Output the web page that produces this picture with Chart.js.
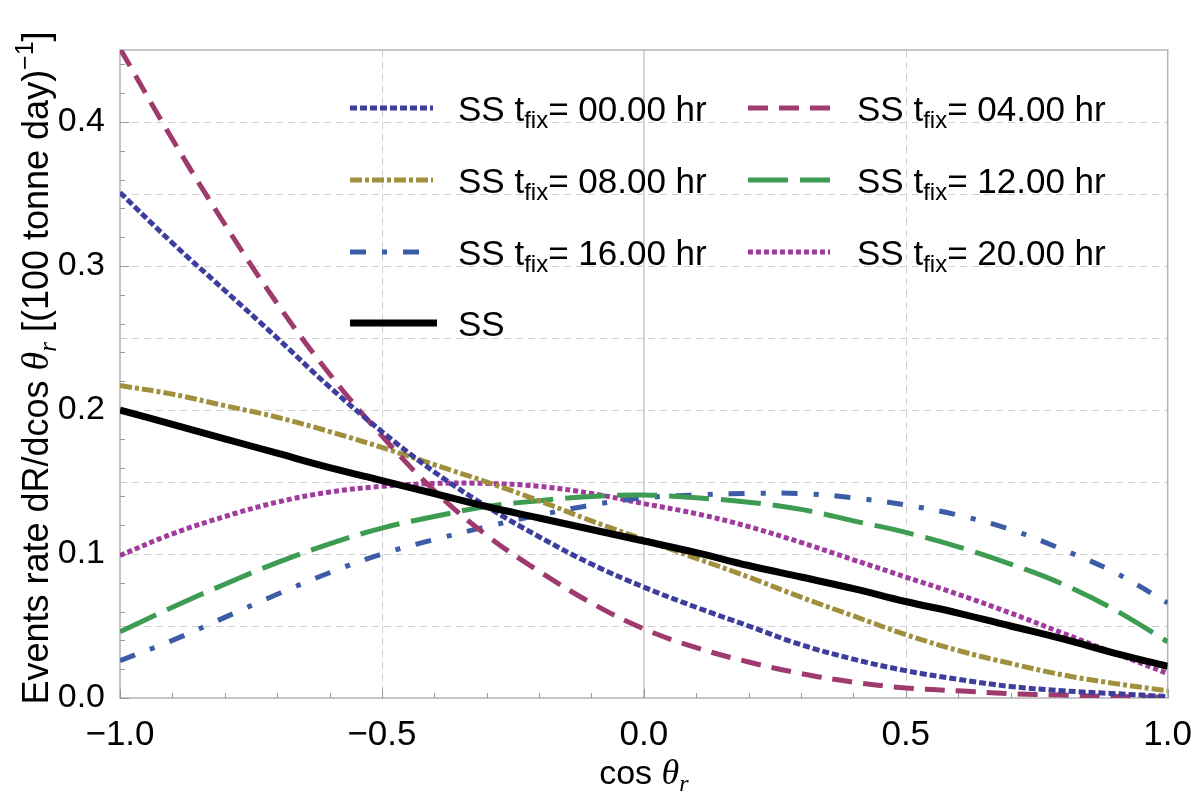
<!DOCTYPE html>
<html>
<head>
<meta charset="utf-8">
<script src="https://cdn.jsdelivr.net/npm/chart.js@4.4.0/dist/chart.umd.min.js"></script>
<style>
  html, body { margin: 0; padding: 0; background: #fff; }
  #wrap { width: 1200px; height: 804px; }
</style>
</head>
<body>
<div id="wrap"><canvas id="graph" width="1200" height="804"></canvas></div>
<script>
// x values (cos theta_r)
const cosTheta = [-1.0, -0.9, -0.8, -0.7, -0.6, -0.5, -0.4, -0.3, -0.2, -0.1, 0.0,
                  0.1, 0.2, 0.3, 0.4, 0.5, 0.6, 0.7, 0.8, 0.9, 1.0];

// event rates
const rateSS  = [0.200, 0.190, 0.180, 0.170, 0.160, 0.151, 0.142, 0.133, 0.125, 0.117, 0.109,
                 0.101, 0.092, 0.084, 0.076, 0.067, 0.059, 0.050, 0.041, 0.031, 0.022];
const rateT00 = [0.351, 0.316, 0.283, 0.250, 0.216, 0.185, 0.157, 0.133, 0.112, 0.093, 0.077,
                 0.063, 0.050, 0.037, 0.027, 0.019, 0.013, 0.008, 0.005, 0.003, 0.001];
const rateT04 = [0.451, 0.388, 0.329, 0.274, 0.225, 0.182, 0.144, 0.113, 0.088, 0.066, 0.048,
                 0.035, 0.025, 0.017, 0.011, 0.007, 0.005, 0.003, 0.002, 0.001, 0.0005];
const rateT08 = [0.217, 0.211, 0.203, 0.195, 0.185, 0.174, 0.162, 0.150, 0.137, 0.123, 0.110,
                 0.097, 0.084, 0.070, 0.057, 0.044, 0.033, 0.024, 0.016, 0.010, 0.005];
const rateT12 = [0.046, 0.063, 0.079, 0.094, 0.107, 0.118, 0.126, 0.133, 0.137, 0.140, 0.141,
                 0.139, 0.136, 0.131, 0.123, 0.115, 0.105, 0.093, 0.079, 0.061, 0.039];
const rateT16 = [0.026, 0.040, 0.056, 0.072, 0.087, 0.100, 0.110, 0.119, 0.127, 0.134, 0.139,
                 0.141, 0.142, 0.142, 0.139, 0.134, 0.127, 0.117, 0.103, 0.087, 0.066];
const rateT20 = [0.099, 0.114, 0.126, 0.136, 0.143, 0.147, 0.149, 0.149, 0.147, 0.142, 0.135,
                 0.128, 0.119, 0.108, 0.096, 0.084, 0.072, 0.059, 0.045, 0.031, 0.017];

const fixTimes = ['00.00', '04.00', '08.00', '12.00', '16.00', '20.00'];
const xTicks = [-1.0, -0.5, 0.0, 0.5, 1.0];
const yTicks = [0.0, 0.1, 0.2, 0.3, 0.4];

const SANS = '"Liberation Sans", Arial, sans-serif';
const SERIF = '"Liberation Serif", "Times New Roman", serif';

function pts(ys) {
    return cosTheta.map((x, i) => ({ x: x, y: ys[i] }));
}

function series(label, ys, color, dash, width) {
    return {
        label: label,
        data: pts(ys),
        borderColor: color,
        borderWidth: width || 5,
        borderDash: dash,
        borderCapStyle: 'butt',
        pointRadius: 0,
        fill: false,
        tension: 0.4
    };
}

const datasets = [
    series('SS', rateSS, '#000000', [], 7),
    series('t00', rateT00, '#3d3d9e', [7, 3]),
    series('t04', rateT04, '#9f3a6f', [20, 11]),
    series('t08', rateT08, '#a08f3d', [12, 3, 4, 3]),
    series('t12', rateT12, '#3d9c51', [40, 12]),
    series('t16', rateT16, '#3d5ca6', [16, 16, 5, 16]),
    series('t20', rateT20, '#a03a9f', [5, 3])
];

function drawRuns(ctx, runs, x, y) {
    let cx = x;
    runs.forEach(r => {
        ctx.font = r.font;
        ctx.fillText(r.text, cx, y + (r.dy || 0));
        cx += ctx.measureText(r.text).width;
    });
    return cx;
}

function runsWidth(ctx, runs) {
    let w = 0;
    runs.forEach(r => { ctx.font = r.font; w += ctx.measureText(r.text).width; });
    return w;
}

// grid, frame and tick marks in the Mathematica style
const framePlugin = {
    id: 'frame',
    beforeDatasetsDraw(chart) {
        const ctx = chart.ctx, a = chart.chartArea;
        const xs = chart.scales.x, ys = chart.scales.y;
        ctx.save();
        ctx.lineWidth = 1;
        ctx.strokeStyle = '#cdcdcd';
        ctx.setLineDash([7, 5]);
        for (let i = 1; i <= 8; i++) {
            const py = Math.round(ys.getPixelForValue(i * 0.05)) + 0.5;
            ctx.beginPath(); ctx.moveTo(a.left, py); ctx.lineTo(a.right, py); ctx.stroke();
        }
        [-0.5, 0.5].forEach(v => {
            const px = Math.round(xs.getPixelForValue(v)) + 0.5;
            ctx.beginPath(); ctx.moveTo(px, a.top); ctx.lineTo(px, a.bottom); ctx.stroke();
        });
        ctx.setLineDash([]);
        ctx.strokeStyle = '#c8c8c8';
        ctx.lineWidth = 1.5;
        const p0 = xs.getPixelForValue(0);
        ctx.beginPath(); ctx.moveTo(p0, a.top); ctx.lineTo(p0, a.bottom); ctx.stroke();

        // frame
        ctx.strokeStyle = '#b4b4b4';
        ctx.lineWidth = 1.5;
        ctx.strokeRect(a.left, a.top, a.right - a.left, a.bottom - a.top);

        // ticks
        ctx.strokeStyle = '#999999';
        ctx.lineWidth = 1;
        for (let i = 0; i <= 22; i++) {
            const py = Math.round(ys.getPixelForValue(i * 0.02)) + 0.5;
            const len = (i % 5 === 0) ? 9 : 5;
            ctx.beginPath(); ctx.moveTo(a.left, py); ctx.lineTo(a.left + len, py); ctx.stroke();
        }
        for (let i = 0; i <= 20; i++) {
            const px = Math.round(xs.getPixelForValue(-1 + i * 0.1)) + 0.5;
            const len = (i % 5 === 0) ? 9 : 5;
            ctx.beginPath(); ctx.moveTo(px, a.bottom); ctx.lineTo(px, a.bottom - len); ctx.stroke();
        }
        ctx.restore();
    },
    afterDatasetsDraw(chart) {
        const ctx = chart.ctx;
        const a = chart.chartArea;
        ctx.save();
        ctx.fillStyle = '#000';
        ctx.textBaseline = 'alphabetic';
        ctx.textAlign = 'left';

        // legend
        const main = '35px ' + SANS;
        const sub = '24px ' + SANS;
        const cols = [{ x0: 350, x1: 433, tx: 458 }, { x0: 748, x1: 830, tx: 857 }];
        const rows = [108, 180, 252, 323];
        const byLabel = {};
        chart.data.datasets.forEach(d => { byLabel[d.label] = d; });
        const entries = fixTimes.map((t, i) => ({ key: 't' + t.slice(0, 2), t: t, col: i % 2, row: Math.floor(i / 2) }));
        entries.push({ key: 'SS', t: null, col: 0, row: 3 });
        entries.forEach(e => {
            const d = byLabel[e.key];
            const c = cols[e.col], y = rows[e.row];
            ctx.save();
            ctx.strokeStyle = d.borderColor;
            ctx.lineWidth = d.borderWidth;
            ctx.setLineDash(d.borderDash);
            ctx.beginPath();
            ctx.moveTo(c.x0, y);
            ctx.lineTo(e.t ? c.x1 : c.x1 + 4, y);
            ctx.stroke();
            ctx.restore();
            const runs = e.t
                ? [{ text: 'SS t', font: main }, { text: 'fix', font: sub, dy: 7 }, { text: '= ' + e.t + ' hr', font: main }]
                : [{ text: 'SS', font: main }];
            drawRuns(ctx, runs, c.tx, y + 13);
        });

        // x axis title
        const xt = [
            { text: 'cos ', font: '34px ' + SANS },
            { text: 'θ', font: 'italic 36px ' + SERIF },
            { text: 'r', font: 'italic 24px ' + SERIF, dy: 7 }
        ];
        const cx = (a.left + a.right) / 2;
        drawRuns(ctx, xt, cx - runsWidth(ctx, xt) / 2, 784);

        // y axis title
        const yt = [
            { text: 'Events rate dR/dcos ', font: '36px ' + SANS },
            { text: 'θ', font: 'italic 38px ' + SERIF },
            { text: 'r', font: 'italic 25px ' + SERIF, dy: 8 },
            { text: ' [(100 tonne day)', font: '36px ' + SANS },
            { text: '−1', font: '25px ' + SANS, dy: -15 },
            { text: ']', font: '36px ' + SANS }
        ];
        ctx.translate(48, 368);
        ctx.rotate(-Math.PI / 2);
        drawRuns(ctx, yt, -runsWidth(ctx, yt) / 2, 0);
        ctx.restore();
    }
};

new Chart(document.getElementById('graph').getContext('2d'), {
    type: 'line',
    data: { datasets: datasets },
    options: {
        responsive: false,
        animation: false,
        devicePixelRatio: 1,
        layout: { padding: { top: 50, right: 28, left: 0, bottom: 0 } },
        plugins: { legend: { display: false }, tooltip: { enabled: false } },
        scales: {
            x: {
                type: 'linear',
                min: -1, max: 1,
                grid: { display: false },
                border: { display: false },
                afterFit: s => { s.height = 106; },
                afterBuildTicks: s => { s.ticks = xTicks.map(v => ({ value: v })); },
                ticks: {
                    color: '#000',
                    padding: 8,
                    maxRotation: 0,
                    font: { family: SANS, size: 35 },
                    callback: v => (v < 0 ? '−' : '') + Math.abs(v).toFixed(1)
                }
            },
            y: {
                type: 'linear',
                min: 0, max: 0.45,
                grid: { display: false },
                border: { display: false },
                afterFit: s => { s.width = 120; },
                afterBuildTicks: s => { s.ticks = yTicks.map(v => ({ value: v })); },
                ticks: {
                    color: '#000',
                    padding: 7,
                    font: { family: SANS, size: 34 },
                    callback: v => v.toFixed(1)
                }
            }
        }
    },
    plugins: [framePlugin]
});
</script>
</body>
</html>
